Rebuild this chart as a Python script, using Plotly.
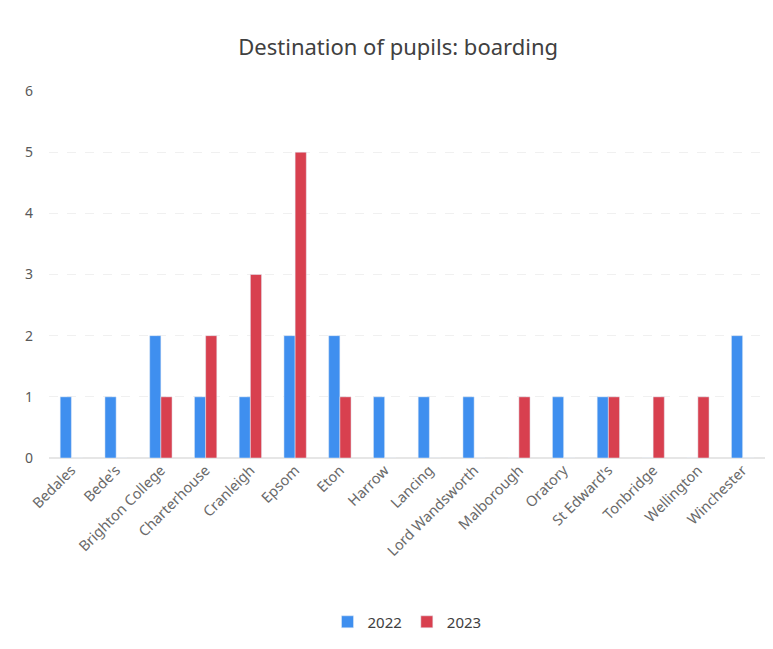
import plotly.graph_objects as go

schools = ["Bedales", "Bede's", "Brighton College", "Charterhouse", "Cranleigh", "Epsom",
           "Eton", "Harrow", "Lancing", "Lord Wandsworth", "Malborough", "Oratory",
           "St Edward's", "Tonbridge", "Wellington", "Winchester"]
y2022 = [1, 1, 2, 1, 1, 2, 2, 1, 1, 1, 0, 1, 1, 0, 0, 2]
y2023 = [0, 0, 1, 2, 3, 5, 1, 0, 0, 0, 1, 0, 1, 1, 1, 0]
yticks = [0, 1, 2, 3, 4, 5, 6]

FONT = "Noto Sans"
fig = go.Figure()
fig.add_trace(go.Bar(x=schools, y=y2022, name="2022", marker_color="#3f8fef"))
fig.add_trace(go.Bar(x=schools, y=y2023, name="2023", marker_color="#d8404f"))

fig.update_layout(
    width=765, height=641,
    paper_bgcolor="white", plot_bgcolor="white",
    margin=dict(l=41, r=8, t=83, b=191),
    barmode="group", bargap=0.5, bargroupgap=0,
    title=dict(text="Destination of pupils: boarding", x=0.51, xanchor="center",
               y=0.939, yanchor="middle",
               font=dict(family=FONT, size=22, color="#404040")),
    font=dict(family=FONT, color="#6a6a6a", size=13),
    legend=dict(orientation="h", x=0.5, xanchor="center", y=-0.447, yanchor="middle",
                itemwidth=30, font=dict(family=FONT, size=15, color="#404040")),
    xaxis=dict(tickangle=-45, showgrid=False, showline=False, ticks="",
               tickfont=dict(family=FONT, size=14.5, color="#6a6a6a")),
    yaxis=dict(range=[0, 6], tickvals=yticks, showgrid=True, gridcolor="#f0f0f0",
               griddash="dash", zeroline=True, zerolinecolor="#e6e6e6", ticks="",
               tickfont=dict(family=FONT, size=14, color="#595959"), ticklabelstandoff=15),
)
fig.write_html("out.html")
